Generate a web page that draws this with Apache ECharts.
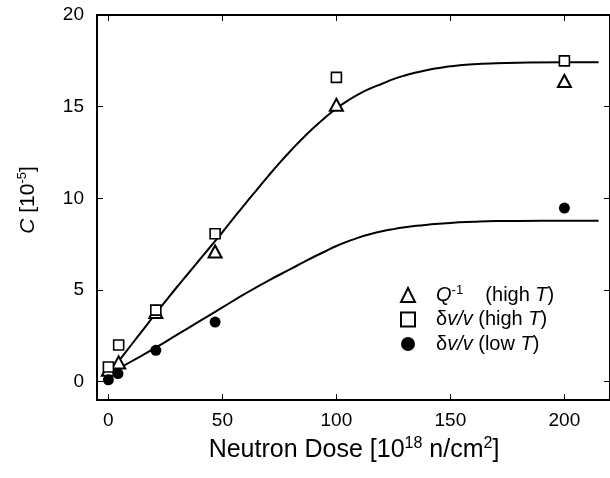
<!DOCTYPE html>
<html>
<head>
<meta charset="utf-8">
<script src="https://cdn.jsdelivr.net/npm/echarts@6/dist/echarts.min.js"></script>
<style>html,body{margin:0;padding:0;background:#fff}#c{width:610px;height:478px}</style>
</head>
<body>
<div id="c"></div>
<script>
// ---- data ----
const xTicks = [0, 50, 100, 150, 200];
const yTicks = [0, 5, 10, 15, 20];

const qX = [0, 4.5, 20.8, 46.8, 100, 200];
const qY = [0.65, 1.05, 3.8, 7.1, 15.1, 16.4];

const sqX = [0, 4.5, 20.8, 46.8, 100, 200];
const sqY = [0.8, 2.0, 3.9, 8.07, 16.6, 17.5];

const ciX = [0, 4.2, 20.8, 46.8, 200];
const ciY = [0.1, 0.44, 1.71, 3.25, 9.47];

const fitHighX = [0, 5, 10, 15, 20, 25, 30, 35, 40, 45, 50, 55, 60, 65, 70, 75, 80, 85, 90, 95, 100, 105, 110, 115, 120, 125, 130, 135, 140, 145, 150, 160, 170, 180, 200, 215];
const fitHighY = [0.4, 1.2, 2.0, 2.8, 3.6, 4.38, 5.15, 5.9, 6.65, 7.4, 8.15, 8.93, 9.7, 10.45, 11.2, 11.92, 12.6, 13.25, 13.85, 14.4, 14.9, 15.33, 15.7, 16.0, 16.25, 16.5, 16.7, 16.86, 17.0, 17.11, 17.2, 17.31, 17.37, 17.4, 17.42, 17.42];

const fitLowX = [0, 10, 20, 30, 40, 50, 60, 70, 80, 85, 90, 95, 100, 105, 110, 115, 120, 125, 130, 135, 140, 150, 160, 170, 180, 200, 215];
const fitLowY = [0.4, 1.1, 1.8, 2.55, 3.3, 4.05, 4.8, 5.5, 6.15, 6.48, 6.8, 7.1, 7.4, 7.65, 7.87, 8.05, 8.2, 8.32, 8.42, 8.5, 8.56, 8.66, 8.72, 8.76, 8.77, 8.78, 8.78];

const zip = (xs, ys) => xs.map((x, i) => [x, ys[i]]);

const FONT = '"Liberation Sans", Arial, sans-serif';
const chart = echarts.init(document.getElementById('c'), null, {renderer: 'canvas'});

const frameAxis = {
  type: 'value',
  axisLine: {show: true, onZero: false, lineStyle: {color: '#000', width: 2}},
  axisTick: {show: true, inside: true, length: 6, lineStyle: {color: '#000', width: 1}},
  splitLine: {show: false}
};

const legendRich = {
  n: {fontFamily: FONT, fontSize: 20, color: '#000', lineHeight: 23},
  i: {fontFamily: FONT, fontSize: 20, color: '#000', fontStyle: 'italic', lineHeight: 23},
  s: {fontFamily: FONT, fontSize: 13, color: '#000', verticalAlign: 'top', lineHeight: 13}
};
const legendLabels = {
  'Q-1 (high T)': '{i|Q}{s|-1}{n|    (high }{i|T}{n|)}',
  'dv/v (high T)': '{n|δ}{i|v/v}{n| (high }{i|T}{n|)}',
  'dv/v (low T)': '{n|δ}{i|v/v}{n| (low }{i|T}{n|)}'
};

chart.setOption({
  animation: false,
  backgroundColor: '#fff',
  grid: {left: 97, top: 15, width: 514, height: 385, containLabel: false},
  xAxis: [
    Object.assign({}, frameAxis, {
      position: 'bottom', min: -5, max: 220,
      axisTick: Object.assign({}, frameAxis.axisTick, {customValues: xTicks}),
      axisLabel: {show: true, customValues: xTicks, margin: 11, color: '#000', fontFamily: FONT, fontSize: 19}
    }),
    Object.assign({}, frameAxis, {
      position: 'top', min: -5, max: 220,
      axisTick: Object.assign({}, frameAxis.axisTick, {customValues: xTicks}),
      axisLabel: {show: false}
    })
  ],
  yAxis: [
    Object.assign({}, frameAxis, {
      position: 'left', min: -1, max: 20,
      axisTick: Object.assign({}, frameAxis.axisTick, {customValues: yTicks}),
      axisLabel: {show: true, customValues: yTicks, margin: 13, color: '#000', fontFamily: FONT, fontSize: 19}
    }),
    Object.assign({}, frameAxis, {
      position: 'right', min: -1, max: 20,
      axisTick: Object.assign({}, frameAxis.axisTick, {customValues: yTicks}),
      axisLabel: {show: false}
    })
  ],
  legend: {
    orient: 'vertical', left: 400, top: 283.5, padding: 0,
    itemWidth: 14, itemHeight: 14, itemGap: 4.5,
    data: [
      {name: 'Q-1 (high T)', icon: 'triangle'},
      {name: 'dv/v (high T)', icon: 'rect'},
      {name: 'dv/v (low T)', icon: 'circle'}
    ],
    formatter: name => legendLabels[name],
    textStyle: {color: '#000', fontFamily: FONT, fontSize: 20, padding: [0, 0, 0, 16], rich: legendRich}
  },
  series: [
    {
      type: 'line', name: 'fitHigh', data: zip(fitHighX, fitHighY), smooth: 0.5,
      showSymbol: false, symbol: 'none', lineStyle: {color: '#000', width: 2}, z: 1, silent: true
    },
    {
      type: 'line', name: 'fitLow', data: zip(fitLowX, fitLowY), smooth: 0.5,
      showSymbol: false, symbol: 'none', lineStyle: {color: '#000', width: 2}, z: 1, silent: true
    },
    {
      type: 'scatter', name: 'Q-1 (high T)', data: zip(qX, qY), symbol: 'triangle', symbolSize: [13, 12],
      itemStyle: {color: '#fff', borderColor: '#000', borderWidth: 2, opacity: 1}, z: 3
    },
    {
      type: 'scatter', name: 'dv/v (high T)', data: zip(sqX, sqY), symbol: 'rect', symbolSize: 10,
      itemStyle: {color: '#fff', borderColor: '#000', borderWidth: 1.6, opacity: 1}, z: 3
    },
    {
      type: 'scatter', name: 'dv/v (low T)', data: zip(ciX, ciY), symbol: 'circle', symbolSize: 11,
      itemStyle: {color: '#000', borderColor: '#000', borderWidth: 0, opacity: 1}, z: 4
    }
  ],
  graphic: [
    {
      type: 'text', x: 354, y: 450, z: 10,
      style: {
        text: '{n|Neutron Dose [10}{s|18}{n| n/cm}{s|2}{n|]}',
        textAlign: 'center', textVerticalAlign: 'middle',
        rich: {
          n: {fontFamily: FONT, fontSize: 25, fill: '#000', lineHeight: 29},
          s: {fontFamily: FONT, fontSize: 16, fill: '#000', verticalAlign: 'top', lineHeight: 16}
        }
      }
    },
    {
      type: 'text', x: 28, y: 200, rotation: Math.PI / 2, z: 10,
      style: {
        text: '{i|C}{n| [10}{s|-5}{n|]}',
        textAlign: 'center', textVerticalAlign: 'middle',
        rich: {
          n: {fontFamily: FONT, fontSize: 21, fill: '#000', lineHeight: 24},
          i: {fontFamily: FONT, fontSize: 21, fill: '#000', fontStyle: 'italic', lineHeight: 24},
          s: {fontFamily: FONT, fontSize: 13, fill: '#000', verticalAlign: 'top', lineHeight: 13}
        }
      }
    }
  ]
});
</script>
</body>
</html>
